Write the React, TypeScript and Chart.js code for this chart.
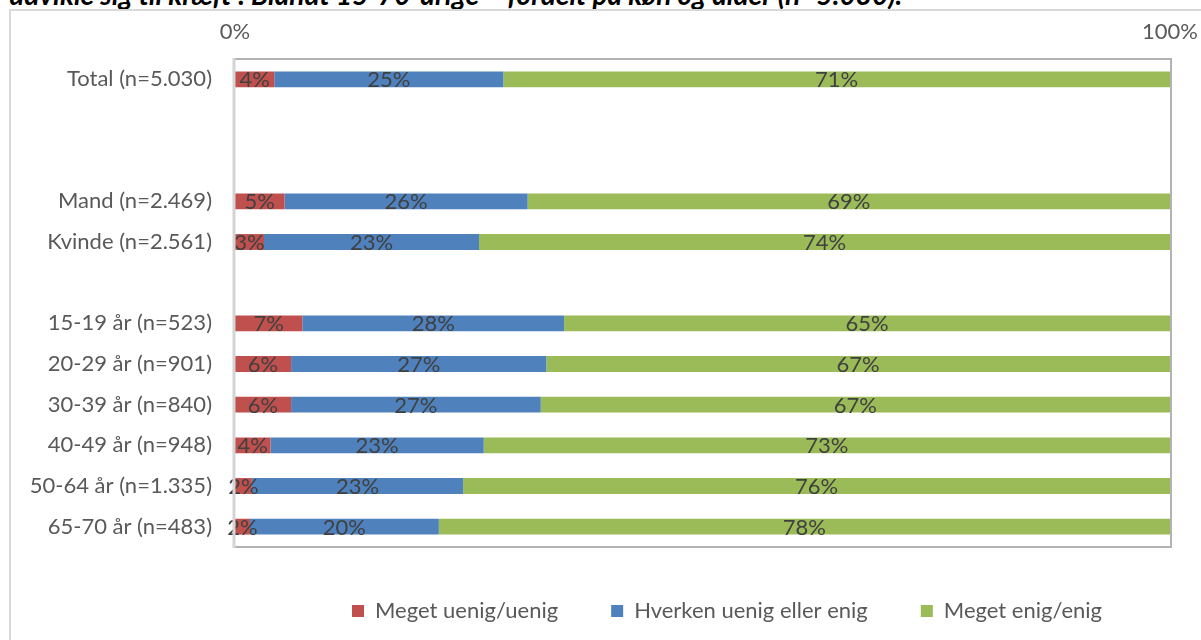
import React, { useEffect, useRef } from 'react';
import { Chart, registerables } from 'chart.js';

Chart.register(...registerables);

const categories = [
  'Total (n=5.030)',
  '',
  '',
  'Mand (n=2.469)',
  'Kvinde (n=2.561)',
  '',
  '15-19 år (n=523)',
  '20-29 år (n=901)',
  '30-39 år (n=840)',
  '40-49 år (n=948)',
  '50-64 år (n=1.335)',
  '65-70 år (n=483)',
];
const seriesNames = ['Meget uenig/uenig', 'Hverken uenig eller enig', 'Meget enig/enig'];
const disagree = [4.2, null, null, 5.3, 3.1, null, 7.2, 6.0, 6.0, 3.8, 1.8, 1.6];
const neutral = [24.5, null, null, 26.0, 23.0, null, 28.0, 27.3, 26.7, 22.8, 22.6, 20.2];
const agree = [71.3, null, null, 68.7, 73.9, null, 64.8, 66.7, 67.3, 73.4, 75.6, 78.2];
const seriesColors = ['#C0504D', '#4F81BD', '#9BBB59'];
const xMin = 0;
const xMax = 100;
const xStep = 100;
const titleText = 'udvikle sig til kræft”. Blandt 15-70-årige – fordelt på køn og alder (n=5.030).';

const FONT = 'Lato, "Open Sans", sans-serif';
const FS = 22;
const CW = 1454;
const CH = 640;
const PLOT_LEFT = 235;
const PLOT_RIGHT = 1170;
const PLOT_TOP = 59;
const PLOT_BOTTOM = 547;
const BOTTOM_PAD = 8;
const LEGEND_PAD = CH - BOTTOM_PAD - PLOT_BOTTOM - FS - 10;

const segLabels = {
  id: 'segLabels',
  afterDatasetsDraw(chart: any) {
    const ctx = chart.ctx;
    ctx.save();
    ctx.font = `${FS}px ${FONT}`;
    ctx.fillStyle = '#404040';
    ctx.textAlign = 'center';
    ctx.textBaseline = 'middle';
    chart.data.datasets.forEach((ds: any, di: number) => {
      const meta = chart.getDatasetMeta(di);
      meta.data.forEach((el: any, i: number) => {
        const v = ds.data[i];
        if (v == null) return;
        const p = el.getProps(['x', 'base', 'y'], true);
        ctx.fillText(Math.round(v) + '%', (p.x + p.base) / 2, p.y + 1);
      });
    });
    ctx.restore();
  },
};

const plotFrame = {
  id: 'plotFrame',
  afterDatasetsDraw(chart: any) {
    const { left, right, top, bottom } = chart.chartArea;
    const ctx = chart.ctx;
    ctx.save();
    ctx.strokeStyle = '#b3b3b3';
    ctx.lineWidth = 2;
    ctx.beginPath();
    ctx.moveTo(left, top);
    ctx.lineTo(right + 1, top);
    ctx.lineTo(right + 1, bottom);
    ctx.lineTo(left, bottom);
    ctx.stroke();
    ctx.strokeStyle = '#d4d4d4';
    ctx.lineWidth = 3;
    ctx.beginPath();
    ctx.moveTo(left - 1, top - 1);
    ctx.lineTo(left - 1, bottom + 1);
    ctx.stroke();
    ctx.restore();
  },
};

export default function App() {
  const ref = useRef<HTMLCanvasElement | null>(null);

  useEffect(() => {
    document.body.style.margin = '0';
    document.body.style.overflow = 'hidden';
    const canvas = ref.current;
    if (!canvas) return;
    const chart = new Chart(canvas, {
      type: 'bar',
      data: {
        labels: categories,
        datasets: [disagree, neutral, agree].map((d, i) => ({
          label: seriesNames[i],
          data: d,
          backgroundColor: seriesColors[i],
          borderWidth: 0,
          barPercentage: 1,
          categoryPercentage: 0.39,
        })),
      },
      options: {
        indexAxis: 'y',
        responsive: false,
        animation: false,
        devicePixelRatio: 1,
        layout: { padding: { left: 0, right: 0, top: 0, bottom: BOTTOM_PAD } },
        font: { family: FONT, size: FS },
        scales: {
          x: {
            type: 'linear',
            position: 'top',
            stacked: true,
            min: xMin,
            max: xMax,
            grid: { display: false },
            border: { display: false },
            ticks: {
              stepSize: xStep,
              padding: 6,
              color: '#595959',
              font: { family: FONT, size: FS },
              callback: (v: any) => v + '%',
            },
            afterFit: (s: any) => {
              s.height = PLOT_TOP;
            },
          },
          y: {
            type: 'category',
            stacked: true,
            grid: { display: false },
            border: { display: false },
            ticks: {
              autoSkip: false,
              padding: 15,
              color: '#595959',
              font: { family: FONT, size: FS },
            },
            afterFit: (s: any) => {
              s.width = PLOT_LEFT;
            },
          },
          yRight: {
            type: 'linear',
            position: 'right',
            display: true,
            grid: { display: false },
            border: { display: false },
            ticks: { display: false },
            afterFit: (s: any) => {
              s.width = CW - PLOT_RIGHT;
            },
          },
        },
        plugins: {
          legend: {
            position: 'bottom',
            align: 'center',
            labels: {
              boxWidth: 12,
              boxHeight: 12,
              padding: LEGEND_PAD,
              color: '#595959',
              font: { family: FONT, size: FS },
            },
          },
          title: { display: false },
          tooltip: { enabled: false },
        },
      },
      plugins: [segLabels, plotFrame],
    } as any);
    return () => chart.destroy();
  }, []);

  return (
    <div
      style={{
        position: 'fixed',
        left: 0,
        top: 0,
        width: 1201,
        height: 640,
        overflow: 'hidden',
        background: '#fff',
      }}
    >
      <div
        style={{
          position: 'absolute',
          left: 9,
          top: -20,
          whiteSpace: 'nowrap',
          fontFamily: FONT,
          fontStyle: 'italic',
          fontWeight: 700,
          fontSize: 28,
          lineHeight: '28px',
          color: '#000',
        }}
      >
        {titleText}
      </div>
      <div
        style={{
          position: 'absolute',
          left: 9,
          top: 9,
          width: 1600,
          height: 800,
          border: '2px solid #d9d9d9',
        }}
      />
      <canvas
        ref={ref}
        width={CW}
        height={CH}
        style={{ position: 'absolute', left: 0, top: 0, width: CW, height: CH }}
      />
    </div>
  );
}
